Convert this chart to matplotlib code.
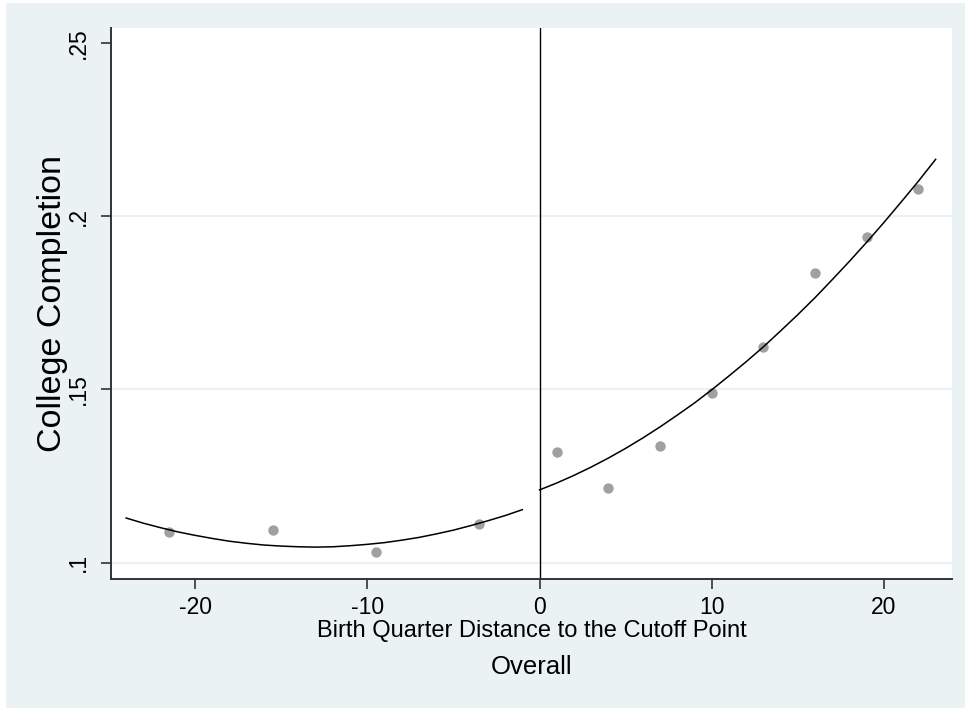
import matplotlib
matplotlib.use("Agg")
import matplotlib.pyplot as plt
from matplotlib.patches import Rectangle

plt.rcParams['font.family'] = ['Liberation Sans', 'DejaVu Sans']
plt.rcParams['axes.unicode_minus'] = False

# binned means
left_x = [-21.5, -15.5, -9.5, -3.5]
left_y = [0.1088, 0.1095, 0.1031, 0.1113]
right_x = [1, 4, 7, 10, 13, 16, 19, 22]
right_y = [0.1320, 0.1215, 0.1338, 0.1491, 0.1623, 0.1836, 0.1941, 0.2079]

# quadratic fit lines, sampled from the picture once per quarter
left_fit_x = list(range(-24, 0))
left_fit_y = [0.1129, 0.1114, 0.1101, 0.1089, 0.1079, 0.1070, 0.1062, 0.1056,
              0.1051, 0.1048, 0.1046, 0.1045, 0.1046, 0.1049, 0.1053, 0.1058,
              0.1065, 0.1073, 0.1083, 0.1094, 0.1107, 0.1121, 0.1136, 0.1153]
right_fit_x = list(range(0, 24))
right_fit_y = [0.1210, 0.1230, 0.1252, 0.1276, 0.1302, 0.1330, 0.1360, 0.1392,
               0.1426, 0.1461, 0.1499, 0.1539, 0.1580, 0.1623, 0.1669, 0.1716,
               0.1765, 0.1817, 0.1870, 0.1925, 0.1982, 0.2041, 0.2101, 0.2164]

x_ticks = [-20, -10, 0, 10, 20]
y_ticks = [0.1, 0.15, 0.2, 0.25]
y_tick_labels = ['.1', '.15', '.2', '.25']

BG = '#EAF2F3'
W, H = 966, 709

fig = plt.figure(figsize=(W / 100, H / 100), dpi=100, facecolor='white')
# stata-style graph region
fig.add_artist(Rectangle((6 / W, 1 / H), 959 / W, 705 / H, transform=fig.transFigure,
                         facecolor=BG, edgecolor='none', zorder=-10))

ax = fig.add_axes([111 / W, 1 - 579 / H, 841 / W, 551 / H])
ax.set_facecolor('white')

ax.scatter(left_x, left_y, s=56, color='#A0A0A0', zorder=3, linewidths=0)
ax.scatter(right_x, right_y, s=56, color='#A0A0A0', zorder=3, linewidths=0)
ax.plot(left_fit_x, left_fit_y, color='black', lw=1.1, zorder=4)
ax.plot(right_fit_x, right_fit_y, color='black', lw=1.1, zorder=4)
ax.axvline(0, color='black', lw=1.0, zorder=2)

ax.set_xlim(-24.88, 23.95)
ax.set_ylim(0.0953, 0.2543)

ax.set_xticks(x_ticks)
ax.set_yticks(y_ticks)
ax.set_yticklabels(y_tick_labels)
ax.yaxis.grid(True, color=BG, lw=1.6, zorder=0)
ax.set_axisbelow(True)
# no gridline at the top tick
ax.get_ygridlines()[-1].set_visible(False)

for s in ['top', 'right']:
    ax.spines[s].set_visible(False)
for s in ['left', 'bottom']:
    ax.spines[s].set_color('#333333')
    ax.spines[s].set_linewidth(1.4)

ax.tick_params(axis='both', length=7, width=1.2, color='#333333', labelsize=16.5)
ax.tick_params(axis='x', pad=5)
ax.tick_params(axis='y', pad=8)
for lab in ax.get_yticklabels():
    lab.set_rotation(90)
    lab.set_va('center')
    lab.set_ha('right')

ax.set_xlabel('Birth Quarter Distance to the Cutoff Point', fontsize=17, labelpad=1)
fig.text(52 / W, 1 - 303.5 / H, 'College Completion', rotation=90,
         ha='center', va='center', fontsize=24.5)
fig.text(531.5 / W, 1 - 667 / H, 'Overall', ha='center', va='center', fontsize=18.5)

fig.savefig('out.png', dpi=100, facecolor=fig.get_facecolor())
